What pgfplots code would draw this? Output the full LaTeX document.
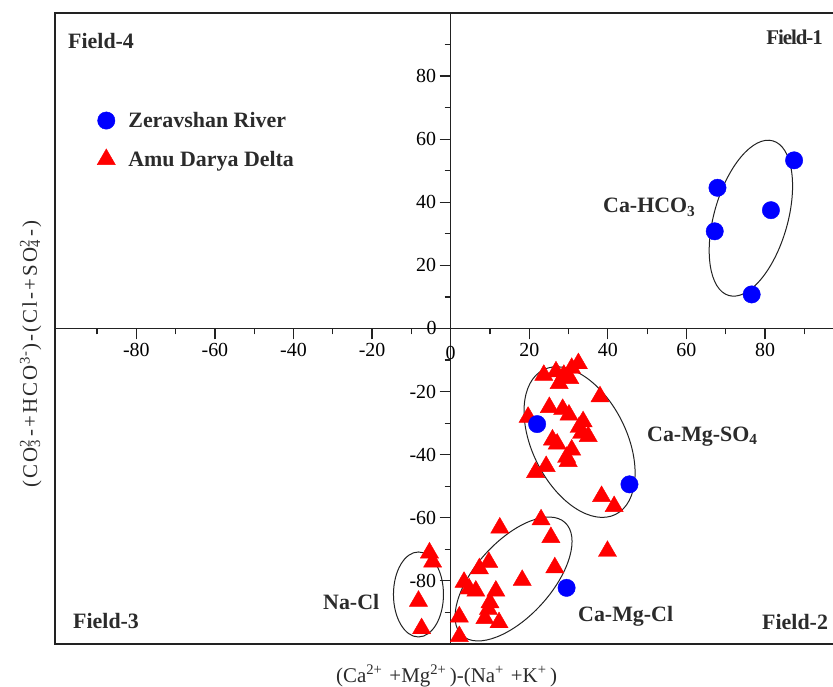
\documentclass[border=0pt]{standalone}
\usepackage{fontspec}
\setmainfont{Liberation Serif}
\usepackage{pgfplots}
\pgfplotsset{compat=1.18}
\definecolor{ink}{HTML}{222222}
\definecolor{txt}{HTML}{2B2B2B}
\newcommand{\supsub}[2]{\makebox[0pt][l]{\textsuperscript{#1}}\textsubscript{#2}}
\newcommand{\lbl}{\fontsize{22}{22}\selectfont\bfseries}
\begin{document}
\begin{tikzpicture}
\useasboundingbox (0,0) rectangle (833bp,687bp);
\begin{axis}[
  at={(55bp,43bp)}, anchor=south west,
  scale only axis, width=778bp, height=631bp,
  xmin=-100.7, xmax=97.3, ymin=-100, ymax=100,
  axis lines=middle,
  axis line style={ink, line width=1.4bp, -},
  xtick={-80,-60,-40,-20,0,20,40,60,80},
  ytick={-80,-60,-40,-20,0,20,40,60,80},
  minor xtick={-90,-70,-50,-30,-10,10,30,50,70,90},
  minor ytick={-90,-70,-50,-30,-10,10,30,50,70,90},
  tick align=outside,
  major tick length=11bp, minor tick length=6bp,
  tick style={ink, line width=1.2bp},
  /pgf/number format/assume math mode=true,
  ticklabel style={font=\fontsize{20}{20}\selectfont, text=black},
  clip=false,
  legend style={at={(rel axis cs:0,1)}, anchor=north west, xshift=42bp, yshift=-97bp,
    draw=none, fill=none, inner sep=0pt, row sep=18bp,
    font=\lbl, text=txt, nodes={inner sep=2bp}},
  legend cell align=left,
  legend image code/.code={\draw[mark repeat=2,mark phase=2,#1] plot coordinates {(0bp,0bp) (12bp,0bp) (24bp,0bp)};},
]
% hydrochemical group ellipses
\draw[ink, line width=1bp, rotate around={74.1:(axis cs:76.4,34.96)}] (axis cs:76.4,34.96) ellipse [x radius=80.4bp, y radius=36.8bp];
\draw[ink, line width=1bp, rotate around={-63.5:(axis cs:32.8,-36.0)}] (axis cs:32.8,-36.0) ellipse [x radius=80.8bp, y radius=47.2bp];
\draw[ink, line width=1bp, rotate around={47.7:(axis cs:16.0,-79.4)}] (axis cs:16.0,-79.4) ellipse [x radius=76.4bp, y radius=37.7bp];
\draw[ink, line width=1bp] (axis cs:-8.2,-84.3) ellipse [x radius=25bp, y radius=42.5bp];
% frame
\draw[ink, line width=2bp] (rel axis cs:1.02,0) -- (rel axis cs:0,0) -- (rel axis cs:0,1) -- (rel axis cs:1.02,1);
% origin tick labels
\node[font=\fontsize{20}{20}\selectfont, inner sep=0pt] at (axis cs:0,0) [yshift=-24bp] {0};
\node[font=\fontsize{20}{20}\selectfont, inner sep=0pt, anchor=east] at (axis cs:0,0) [xshift=-14bp, yshift=1bp] {0};
% Amu Darya Delta
\addplot[only marks, mark=triangle*, mark size=10.5bp, color=red, forget plot] coordinates {
(32.5,-11.1) (30.8,-12.6) (26.8,-13.7) (23.7,-14.8) (28.8,-14.8) (30.3,-15.8) (27.6,-17.4)
(38.0,-21.6) (25.1,-25.0) (28.5,-25.6) (30.1,-27.4) (19.7,-28.1) (33.7,-29.5) (32.7,-31.3)
(35.0,-34.2) (33.3,-33.2) (25.9,-35.3) (27.1,-36.6) (30.8,-38.5) (29.5,-40.8) (29.9,-42.1)
(24.3,-43.7) (21.6,-45.6) (38.4,-53.2) (41.6,-56.4) (23.0,-60.6) (12.5,-63.2) (25.5,-66.2)
(39.9,-70.6) (9.7,-74.1) (7.3,-76.1) (26.5,-75.8) (18.2,-79.8) (3.4,-80.4) (4.7,-82.5)
(6.4,-83.2) (11.5,-83.2) (10.0,-86.9) (9.6,-89.0) (2.2,-91.4) (8.7,-91.9) (12.3,-93.2)
(2.2,-97.6) (-5.4,-71.1) (-4.6,-74.0) (-8.2,-86.4) (-7.4,-95.1)
};
% Zeravshan River
\addplot[only marks, mark=*, mark size=8.7bp, color=blue, forget plot] coordinates {
(67.9,44.6) (87.4,53.3) (81.5,37.5) (67.2,30.8) (76.6,10.8)
(22.0,-30.3) (45.5,-49.4) (29.5,-82.2)
};
\addlegendimage{only marks, mark=*, mark size=8.7bp, color=blue}
\addlegendentry{\hspace{11bp}Zeravshan River}
\addlegendimage{only marks, mark=triangle*, mark size=10.5bp, color=red}
\addlegendentry{\hspace{11bp}Amu Darya Delta}
\end{axis}
% field and group labels
\begin{scope}[every node/.style={inner sep=0pt, font=\lbl, text=txt}]
\node[anchor=base west] at (68bp,638.7bp) {Field-4};
\node[anchor=base east, font=\fontsize{21}{21}\selectfont\bfseries\addfontfeature{LetterSpace=-5}] at (823bp,642.7bp) {Field-1};
\node[anchor=base west] at (73bp,58.7bp) {Field-3};
\node[anchor=base west] at (762bp,57bp) {Field-2};
\node[anchor=base west] at (603bp,474bp) {Ca-HCO\textsubscript{3}};
\node[anchor=base west] at (647bp,245.3bp) {Ca-Mg-SO\textsubscript{4}};
\node[anchor=base west] at (578bp,65.3bp) {Ca-Mg-Cl};
\node[anchor=base west] at (323bp,77.7bp) {Na-Cl};
\end{scope}
% axis titles
\node[anchor=base west, inner sep=0pt, font=\fontsize{21}{21}\selectfont, text=txt] at (336bp,4.7bp)
  {(Ca\textsuperscript{2+}\,\,+Mg\textsuperscript{2+}\,)-(Na\textsuperscript{+}\,\,+K\textsuperscript{+}\,)};
\node[anchor=base west, rotate=90, inner sep=0pt, font=\fontsize{21}{21}\selectfont\addfontfeature{LetterSpace=10}, text=txt] at (37bp,199bp)
  {(CO\supsub{2\,}{3}\,-+HCO\textsuperscript{3-})-(Cl-+SO\supsub{2\,}{4}\,-)};
\end{tikzpicture}
\end{document}
